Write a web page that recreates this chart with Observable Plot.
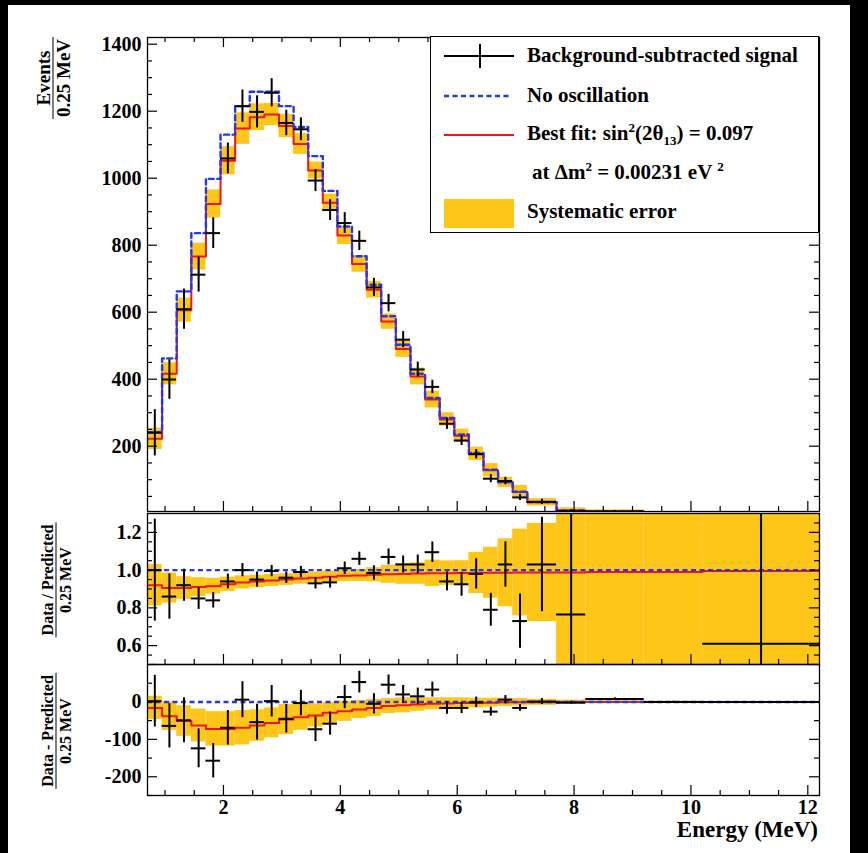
<!DOCTYPE html>
<html><head><meta charset="utf-8">
<script src="https://cdn.jsdelivr.net/npm/d3@7"></script>
<script src="https://cdn.jsdelivr.net/npm/@observablehq/plot@0.6"></script>
<style>
html,body{margin:0;padding:0;background:#000;}
#page{position:relative;width:868px;height:853px;overflow:hidden;background:#000;}
#paper{position:absolute;left:8px;top:5px;width:842px;height:848px;background:#fff;}
.panel{position:absolute;left:0;}
.panel svg{overflow:visible;}
.serif{font-family:"Liberation Serif","Times New Roman",serif;font-weight:bold;color:#000;}
.ytitle{position:absolute;transform:translate(-50%,-50%) rotate(-90deg);font-size:16px;line-height:15px;text-align:center;white-space:nowrap;}
.ytitle .num{padding:0 2px 1px 2px;border-bottom:1.5px solid #000;}
.ytitle .den{padding:1px 2px 0 2px;}
#legend{position:absolute;left:430px;top:36px;width:387px;height:195px;border:1.3px solid #000;background:#fff;}
.lt{position:absolute;font-size:21px;line-height:21px;white-space:nowrap;}
.lt sup,.lt sub{font-size:13px;line-height:0;}
</style></head>
<body><div id="page"><div id="paper"></div></div>
<script>
// ---------------- data ----------------
const binEdges = [0.7,0.95,1.2,1.45,1.7,1.95,2.2,2.45,2.7,2.95,3.2,3.45,3.7,3.95,4.2,4.45,4.7,4.95,5.2,5.45,5.7,5.95,6.2,6.45,6.7,6.95,7.2,7.7,8.2,9.2,10.2,12.2];
const xTickLabels = [2,4,6,8,10,12];
const mainYTicks = [200,400,600,800,1000,1200,1400];
const ratioYTicks = [0.6,0.8,1.0,1.2];
const diffYTicks = [-200,-100,0];

// main panel (events / 0.25 MeV)
const dataMain = [240,399,609,712,836,1059,1215,1198,1255,1165,1146,993,905,866,813,674,627,518,429,377,267,217,176,103,96,47,34,6,5,2,1];
const statErr  = [69,59,60,52,46,46,48,48,42,38,34,33,31,31,29,27,26,24,22,20,17,15,14,12,11,9,8,4,3,2,1];
const noOsc    = [242,462,662,836,998,1130,1215,1258,1258,1215,1153,1066,962,856,767,682,588,503,416,344,284,235,180,130,93,64,33,8,5,2,1];
const bestFit  = [222,416,606,766,923,1052,1148,1182,1190,1156,1102,1023,927,829,744,667,572,490,408,339,280,231,177,128,92,63,32.5,8,5,2,1];
const sysMain  = [32,33,36,40,42,42,47,40,33,35,31,25,25,27,25,25,23,25,25,25,20,20,20,20,15,20,11,8,5,3,2];

// ratio panel (data / predicted)
const ratioData = [1.00,0.86,0.92,0.85,0.84,0.94,1.00,0.95,0.995,0.96,0.99,0.93,0.935,1.01,1.06,0.985,1.07,1.03,1.03,1.095,0.94,0.925,0.98,0.79,1.03,0.73,1.03,0.765,null,null,0.61];
const ratioErr  = [0.27,0.12,0.085,0.058,0.041,0.039,0.035,0.04,0.03,0.03,0.03,0.03,0.03,0.033,0.035,0.038,0.042,0.045,0.05,0.054,0.05,0.063,0.08,0.087,0.12,0.144,0.25,0.8,null,null,2.0];
const ratioFit  = [0.92,0.905,0.905,0.91,0.915,0.925,0.935,0.94,0.945,0.95,0.955,0.96,0.965,0.97,0.972,0.975,0.978,0.98,0.982,0.983,0.984,0.985,0.985,0.986,0.986,0.987,0.987,0.988,0.99,0.99,0.995];
const ratioSys  = [0.11,0.08,0.06,0.05,0.042,0.038,0.035,0.033,0.032,0.031,0.03,0.03,0.03,0.031,0.032,0.038,0.048,0.055,0.057,0.07,0.065,0.065,0.109,0.135,0.18,0.23,0.26,1,1,1,1];

// difference panel (data - predicted)
const diffData = [2,-64,-49,-124,-157,-69,6,-54,2,-45,-3,-73,-58,13,53,-5,46,20,15,33,-16,-16,-1,-26,6,-16,1,-2,8,0,0];
const diffFit  = [-16,-38,-51,-63,-72,-72,-69,-63,-56,-47,-41,-36,-29,-25,-20,-16,-11,-9,-7,-5,-4,-3,-3,-2,-1,-1,-1,0,0,0,0];
const diffSys  = [31,38,41,44,46,46,46,42,40,40,35,31,27,27,24,23,20,20,18,16,15,14,13,12,11,10,8,5,3,2,1];

// ---------------- helpers ----------------
const YELLOW = "#ffc61a", BLUE = "#2436f0", RED = "#f01414";
const bins = binEdges.slice(0,-1).map((lo,i)=>({lo, hi:binEdges[i+1], c:(lo+binEdges[i+1])/2, i}));
const X0 = 0.7, X1 = 12.2, ML = 147, MR = 49, W = 868 - ML - MR;
const xMinor = d3.range(1, 12.01, 0.5).filter(v => v % 2 !== 0);

function stepPts(vals){
  const p=[]; bins.forEach((b,i)=>{ if(vals[i]==null) return; p.push({x:b.lo,y:vals[i]},{x:b.hi,y:vals[i]}); }); return p;
}
function cross(vals, errs){
  const d = bins.filter(b => vals[b.i]!=null);
  return [
    Plot.ruleX(d, {x:"c", y1:b=>vals[b.i]-errs[b.i], y2:b=>vals[b.i]+errs[b.i], stroke:"#000", strokeWidth:2, clip:true}),
    Plot.ruleY(d, {y:b=>vals[b.i], x1:"lo", x2:"hi", stroke:"#000", strokeWidth:2, clip:true})
  ];
}
function band(fit, sys){
  return Plot.rect(bins, {x1:"lo", x2:"hi", y1:b=>fit[b.i]-sys[b.i], y2:b=>fit[b.i]+sys[b.i], fill:YELLOW, clip:true});
}
function ticks(H, yMaj, yMin, top){
  const L=10, l=5, s={stroke:"#000", strokeWidth:1.2};
  const m = [
    Plot.tickX(xTickLabels, {x:d=>d, insetTop:H-L, ...s}),
    Plot.tickX(xMinor, {x:d=>d, insetTop:H-l, ...s}),
    Plot.tickY(yMaj, {y:d=>d, insetRight:W-L, ...s}),
    Plot.tickY(yMin, {y:d=>d, insetRight:W-l, ...s}),
    Plot.tickY(yMaj, {y:d=>d, insetLeft:W-L, ...s}),
    Plot.tickY(yMin, {y:d=>d, insetLeft:W-l, ...s})
  ];
  if (top) m.push(Plot.tickX(xTickLabels, {x:d=>d, insetBottom:H-L, ...s}), Plot.tickX(xMinor, {x:d=>d, insetBottom:H-l, ...s}));
  return m;
}
const style = {fontFamily:"Liberation Serif, Times New Roman, serif", fontSize:"20px", fontWeight:"bold", background:"transparent", color:"#000", overflow:"visible"};
function place(svg, top){ const d=document.createElement("div"); d.className="panel"; d.style.top=top+"px"; d.appendChild(svg); document.getElementById("page").appendChild(d); }

// ---------------- main panel ----------------
const mainH = 512, mainMT = 37, mainMB = 1;
const mainDomain = [5,1420];
const mainMinor = d3.range(50, 1420, 50).filter(v => v % 200 !== 0);
place(Plot.plot({
  width:868, height:mainH, marginTop:mainMT, marginBottom:mainMB, marginLeft:ML, marginRight:MR,
  style,
  x:{domain:[X0,X1], axis:null},
  y:{domain:mainDomain},
  marks:[
    band(bestFit, sysMain),
    Plot.line(stepPts(bestFit), {x:"x", y:"y", stroke:RED, strokeWidth:2, clip:true}),
    Plot.line(stepPts(noOsc), {x:"x", y:"y", stroke:BLUE, strokeWidth:2.4, strokeDasharray:"5,3.5", clip:true}),
    ...cross(dataMain, statErr),
    ...ticks(mainH-mainMT-mainMB, mainYTicks, mainMinor, true),
    Plot.axisY({ticks:mainYTicks, tickSize:0, tickPadding:6, label:null, tickFormat:d=>String(d)}),
    Plot.frame({stroke:"#000", strokeWidth:1.3})
  ]
}), 0);

// ---------------- ratio panel ----------------
const rH = 153, rMT = 1, rMB = 1;
const ratioMinor = d3.range(0.55, 1.3, 0.05).map(v=>+v.toFixed(2)).filter(v => Math.abs(v*5 - Math.round(v*5)) > 1e-6);
place(Plot.plot({
  width:868, height:rH, marginTop:rMT, marginBottom:rMB, marginLeft:ML, marginRight:MR,
  style,
  x:{domain:[X0,X1], axis:null},
  y:{domain:[0.5,1.3]},
  marks:[
    band(ratioFit, ratioSys),
    Plot.line(stepPts(ratioFit), {x:"x", y:"y", stroke:RED, strokeWidth:2, clip:true}),
    Plot.ruleY([1.0], {stroke:BLUE, strokeWidth:2.4, strokeDasharray:"5,3.5"}),
    ...cross(ratioData, ratioErr),
    ...ticks(rH-rMT-rMB, ratioYTicks, ratioMinor, false),
    Plot.axisY({ticks:ratioYTicks, tickSize:0, tickPadding:6, label:null, tickFormat:d=>d.toFixed(1)}),
    Plot.frame({stroke:"#000", strokeWidth:1.3})
  ]
}), 512);

// ---------------- difference panel ----------------
const dH = 190, dMT = 1, dMB = 58;
const diffMinor = [-250,-150,-50,50];
place(Plot.plot({
  width:868, height:dH, marginTop:dMT, marginBottom:dMB, marginLeft:ML, marginRight:MR,
  style,
  x:{domain:[X0,X1]},
  y:{domain:[-250,100]},
  marks:[
    band(diffFit, diffSys),
    Plot.line(stepPts(diffFit), {x:"x", y:"y", stroke:RED, strokeWidth:2, clip:true}),
    Plot.ruleY([0], {stroke:BLUE, strokeWidth:2.4, strokeDasharray:"5,3.5"}),
    ...cross(diffData, statErr),
    ...ticks(dH-dMT-dMB, diffYTicks.concat([100]), diffMinor, false),
    Plot.axisY({ticks:diffYTicks, tickSize:0, tickPadding:6, label:null, tickFormat:d=>String(d)}),
    Plot.axisX({ticks:xTickLabels, tickSize:0, tickPadding:4, label:null, tickFormat:d=>String(d)}),
    Plot.frame({stroke:"#000", strokeWidth:1.3})
  ]
}), 663);

// ---------------- texts ----------------
const page = document.getElementById("page");
function addHTML(html){ const t=document.createElement("div"); t.innerHTML=html; while(t.firstChild) page.appendChild(t.firstChild); }
addHTML(`
<div class="ytitle serif" style="left:53px;top:78px;font-size:19px;line-height:17px;"><div class="num">Events</div><div class="den">0.25 MeV</div></div>
<div class="ytitle serif" style="left:56px;top:580px;"><div class="num">Data / Predicted</div><div class="den">0.25 MeV</div></div>
<div class="ytitle serif" style="left:56px;top:731px;"><div class="num">Data - Predicted</div><div class="den">0.25 MeV</div></div>
<div class="serif" style="position:absolute;right:50px;top:821px;font-size:23px;line-height:18px;white-space:nowrap;">Energy (MeV)</div>
<div id="legend" class="serif">
  <svg width="387" height="195" style="position:absolute;left:0;top:0;overflow:visible">
    <line x1="13" x2="83" y1="19" y2="19" stroke="#000" stroke-width="2"/>
    <line x1="49" x2="49" y1="7" y2="31" stroke="#000" stroke-width="2"/>
    <line x1="13" x2="81" y1="59" y2="59" stroke="${BLUE}" stroke-width="2.4" stroke-dasharray="5,3.5"/>
    <line x1="13" x2="83" y1="98" y2="98" stroke="${RED}" stroke-width="2"/>
    <rect x="13" y="162" width="70" height="29" fill="${YELLOW}"/>
  </svg>
  <div class="lt" style="left:96px;top:8px;">Background-subtracted signal</div>
  <div class="lt" style="left:96px;top:48px;">No oscillation</div>
  <div class="lt" style="left:96px;top:86px;">Best fit: sin<sup>2</sup>(2θ<sub>13</sub>) = 0.097</div>
  <div class="lt" style="left:101px;top:125px;">at Δm<sup>2</sup> = 0.00231 eV <sup>2</sup></div>
  <div class="lt" style="left:96px;top:164px;">Systematic error</div>
</div>
`);
</script>
</body></html>
